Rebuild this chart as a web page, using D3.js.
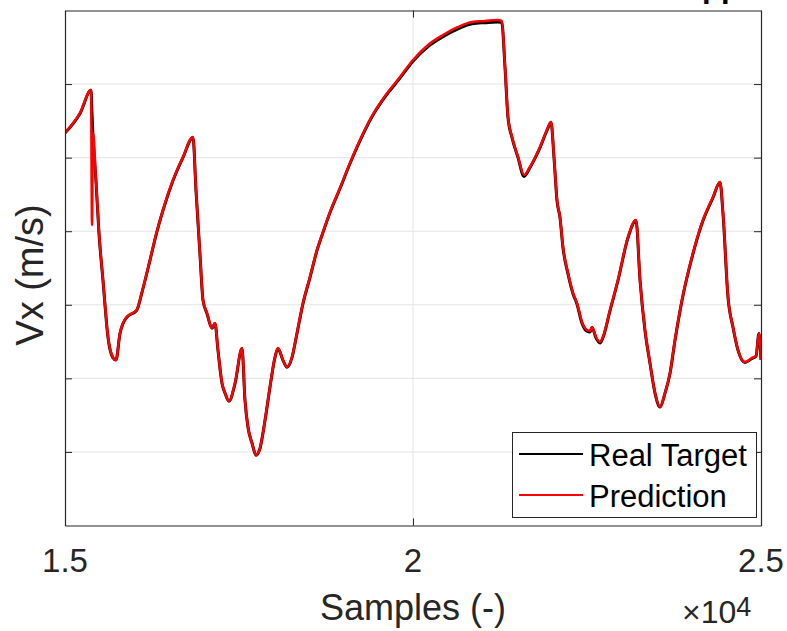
<!DOCTYPE html>
<html>
<head>
<meta charset="utf-8">
<script src="https://cdn.jsdelivr.net/npm/d3@7"></script>
<style>
  body { margin: 0; background: #fff; }
  text { font-family: "Liberation Sans", Arial, Helvetica, sans-serif; }
</style>
</head>
<body>
<div id="chart"></div>
<script>
// sample index (x) and velocity (y, one unit per grid step)
const samples = [15000, 15216, 15374, 15388, 15402, 15445, 15489, 15546, 15618, 15685,
  15733, 15790, 15887, 16030, 16106, 16221, 16307, 16408, 16552, 16696,
  16839, 16882, 16940, 16983, 17040, 17112, 17155, 17198, 17256, 17299,
  17356, 17443, 17543, 17586, 17629, 17687, 17744, 17802, 17874, 17945,
  18017, 18060, 18132, 18190, 18262, 18333, 18420, 18520, 18621, 18693,
  18808, 18951, 19095, 19239, 19411, 19598, 19813, 20000, 20216, 20431,
  20647, 20848, 21035, 21207, 21275, 21322, 21365, 21423, 21509, 21595,
  21681, 21825, 21925, 21983, 22026, 22069, 22112, 22155, 22227, 22299,
  22356, 22428, 22500, 22543, 22572, 22629, 22687, 22730, 22831, 22945,
  23089, 23204, 23262, 23333, 23405, 23477, 23549, 23621, 23693, 23764,
  23865, 24023, 24167, 24310, 24411, 24454, 24526, 24598, 24670, 24770,
  24871, 24928, 24971, 25000];

const prediction = [5.335, 5.607, 5.920, 4.085, 5.335, 4.696, 3.976, 3.337, 2.562, 2.290,
  2.250, 2.617, 2.834, 2.929, 3.174, 3.609, 3.949, 4.288, 4.696, 5.009,
  5.281, 4.560, 3.677, 3.065, 2.888, 2.685, 2.752, 2.385, 1.937, 1.801,
  1.692, 1.937, 2.413, 1.706, 1.339, 1.121, 0.958, 1.053, 1.434, 1.883,
  2.290, 2.413, 2.250, 2.154, 2.290, 2.617, 3.024, 3.378, 3.745, 3.949,
  4.261, 4.587, 4.927, 5.240, 5.566, 5.838, 6.096, 6.327, 6.531, 6.667,
  6.776, 6.844, 6.857, 6.871, 6.857, 6.232, 5.552, 5.281, 5.009, 4.764,
  4.873, 5.145, 5.376, 5.485, 5.009, 4.424, 4.193, 3.786, 3.432, 3.160,
  3.024, 2.766, 2.657, 2.644, 2.698, 2.562, 2.494, 2.562, 2.929, 3.337,
  3.921, 4.153, 3.337, 2.657, 2.209, 1.801, 1.611, 1.801, 2.073, 2.521,
  3.065, 3.704, 4.153, 4.465, 4.669, 4.248, 3.106, 2.698, 2.385, 2.222,
  2.277, 2.304, 2.617, 2.250];

const realTarget = [5.335, 5.600, 5.915, 5.600, 5.300, 4.680, 3.960, 3.330, 2.555, 2.285,
  2.250, 2.610, 2.830, 2.925, 3.170, 3.605, 3.945, 4.285, 4.690, 5.005,
  5.275, 4.555, 3.670, 3.060, 2.880, 2.680, 2.745, 2.380, 1.930, 1.800,
  1.690, 1.930, 2.405, 1.700, 1.335, 1.120, 0.955, 1.050, 1.430, 1.880,
  2.285, 2.405, 2.245, 2.150, 2.285, 2.610, 3.020, 3.370, 3.740, 3.945,
  4.255, 4.580, 4.920, 5.230, 5.555, 5.825, 6.080, 6.310, 6.510, 6.645,
  6.750, 6.820, 6.835, 6.845, 6.840, 6.225, 5.545, 5.270, 5.000, 4.745,
  4.865, 5.135, 5.370, 5.480, 5.000, 4.415, 4.185, 3.775, 3.420, 3.150,
  3.010, 2.750, 2.640, 2.630, 2.690, 2.550, 2.480, 2.555, 2.920, 3.330,
  3.910, 4.145, 3.330, 2.650, 2.205, 1.800, 1.610, 1.800, 2.070, 2.515,
  3.060, 3.695, 4.145, 4.455, 4.665, 4.240, 3.100, 2.690, 2.380, 2.215,
  2.270, 2.300, 2.610, 2.250];

const xTicks = [15000, 20000, 25000];
const xTickLabels = ["1.5", "2", "2.5"];
const yTicks = [1, 2, 3, 4, 5, 6];
const seriesNames = ["Real Target", "Prediction"];
const seriesColors = ["#000000", "#ff0000"];

const width = 787, height = 631;
const margin = {top: 10.5, right: 26, bottom: 105.5, left: 65};
const axisColor = "#262626";

const svg = d3.select("#chart")
  .append("svg")
  .attr("width", width)
  .attr("height", height);

const x = d3.scaleLinear()
  .domain([15000, 25000])
  .range([margin.left, width - margin.right]);
const y = d3.scaleLinear()
  .domain([0, 7])
  .range([height - margin.bottom, margin.top]);

// title, mostly above the page edge
svg.append("text")
  .attr("x", 702)
  .attr("y", -3.5)
  .attr("font-size", "31px")
  .attr("font-weight", "bold")
  .attr("fill", "#000")
  .text("pp");

// grid
svg.append("g")
  .selectAll("line")
  .data(yTicks)
  .enter()
  .append("line")
  .attr("x1", x.range()[0]).attr("x2", x.range()[1])
  .attr("y1", d => y(d)).attr("y2", d => y(d))
  .attr("stroke", "#e3e3e3").attr("stroke-width", 1);
svg.append("g")
  .selectAll("line")
  .data(xTicks.slice(1, -1))
  .enter()
  .append("line")
  .attr("x1", d => x(d)).attr("x2", d => x(d))
  .attr("y1", y.range()[0]).attr("y2", y.range()[1])
  .attr("stroke", "#e3e3e3").attr("stroke-width", 1);

// lines
svg.append("clipPath").attr("id", "clip")
  .append("rect")
  .attr("x", x.range()[0]).attr("y", y.range()[1])
  .attr("width", x.range()[1] - x.range()[0])
  .attr("height", y.range()[0] - y.range()[1]);

const line = d3.line()
  .x(d => x(d[0]))
  .y(d => y(d[1]))
  .curve(d3.curveMonotoneX);

const plot = svg.append("g").attr("clip-path", "url(#clip)");
plot.append("path")
  .datum(samples.map((s, i) => [s, realTarget[i]]))
  .attr("d", line)
  .attr("fill", "none")
  .attr("stroke", seriesColors[0])
  .attr("stroke-width", 3)
  .attr("stroke-linejoin", "round");
plot.append("path")
  .datum(samples.map((s, i) => [s, prediction[i]]))
  .attr("d", line)
  .attr("fill", "none")
  .attr("stroke", seriesColors[1])
  .attr("stroke-width", 2.5)
  .attr("stroke-linejoin", "round");

// axes (box with inward ticks)
function styleAxis(g) {
  g.select(".domain").attr("stroke", axisColor).attr("stroke-width", 1.2);
  g.selectAll(".tick line").attr("stroke", axisColor).attr("stroke-width", 1);
}

svg.append("g")
  .attr("transform", `translate(0,${y.range()[0]})`)
  .call(d3.axisBottom(x).tickValues(xTicks).tickSizeInner(-7).tickSizeOuter(0).tickFormat(""))
  .call(styleAxis);
svg.append("g")
  .attr("transform", `translate(0,${y.range()[1]})`)
  .call(d3.axisTop(x).tickValues(xTicks).tickSizeInner(-7).tickSizeOuter(0).tickFormat(""))
  .call(styleAxis);
svg.append("g")
  .attr("transform", `translate(${x.range()[0]},0)`)
  .call(d3.axisLeft(y).tickValues(yTicks).tickSizeInner(-7).tickSizeOuter(0).tickFormat(""))
  .call(styleAxis);
svg.append("g")
  .attr("transform", `translate(${x.range()[1]},0)`)
  .call(d3.axisRight(y).tickValues(yTicks).tickSizeInner(-7).tickSizeOuter(0).tickFormat(""))
  .call(styleAxis);

// x tick labels
svg.append("g")
  .selectAll("text")
  .data(xTicks)
  .enter()
  .append("text")
  .attr("x", d => x(d))
  .attr("y", 572)
  .attr("text-anchor", "middle")
  .attr("font-size", "33px")
  .attr("fill", axisColor)
  .text((d, i) => xTickLabels[i]);

// exponent
const expo = svg.append("text")
  .attr("x", 682)
  .attr("y", 623)
  .attr("font-size", "32px")
  .attr("fill", axisColor);
expo.append("tspan").text("\u00d710");
expo.append("tspan").attr("font-size", "27px").attr("dy", -7).text("4");

// axis labels
svg.append("text")
  .attr("x", (x.range()[0] + x.range()[1]) / 2)
  .attr("y", 620)
  .attr("text-anchor", "middle")
  .attr("font-size", "36px")
  .attr("fill", axisColor)
  .text("Samples (-)");

svg.append("text")
  .attr("transform", "rotate(-90)")
  .attr("x", -275)
  .attr("y", 43)
  .attr("text-anchor", "middle")
  .attr("font-size", "38px")
  .attr("fill", axisColor)
  .text("Vx (m/s)");

// legend
const legend = svg.append("g");
legend.append("rect")
  .attr("x", 512.5).attr("y", 432.5)
  .attr("width", 244).attr("height", 85)
  .attr("fill", "#fff")
  .attr("stroke", axisColor)
  .attr("stroke-width", 1);
const legendY = [454, 495];
const legendBase = [465.5, 506.5];
seriesNames.forEach((name, i) => {
  legend.append("line")
    .attr("x1", 519).attr("x2", 583)
    .attr("y1", legendY[i]).attr("y2", legendY[i])
    .attr("stroke", seriesColors[i])
    .attr("stroke-width", 2);
  legend.append("text")
    .attr("x", 589)
    .attr("y", legendBase[i])
    .attr("font-size", "31px")
    .attr("fill", "#000")
    .text(name);
});
</script>
</body>
</html>
